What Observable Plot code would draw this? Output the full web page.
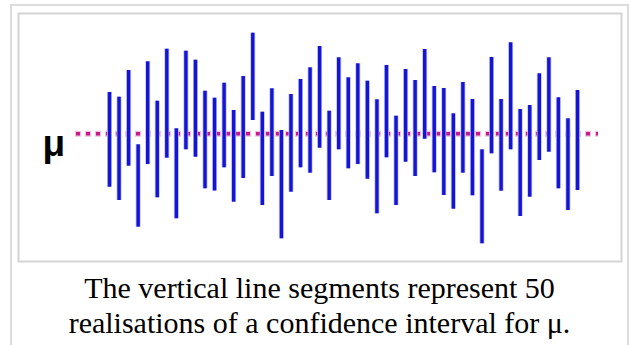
<!DOCTYPE html>
<html>
<head>
<meta charset="utf-8">
<script src="https://cdn.jsdelivr.net/npm/d3@7"></script>
<script src="https://cdn.jsdelivr.net/npm/@observablehq/plot@0.6"></script>
<style>
  html, body { margin: 0; padding: 0; background: #fff; }
  #page { position: relative; width: 629px; height: 345px; overflow: hidden; }
  #outer { position: absolute; left: 10px; top: 4px; width: 619px; height: 360px;
           box-sizing: border-box; border: 2px solid #dcdcdc; }
  #chart { position: absolute; left: 0; top: 0; }
  #caption { position: absolute; left: 10px; width: 619px; top: 270px; text-align: center;
             font-family: 'Liberation Serif', 'Times New Roman', Times, 'DejaVu Serif', serif;
             font-size: 30px; line-height: 35px; color: #000; }
</style>
</head>
<body>
<div id="page">
  <div id="outer"></div>
  <div id="chart"></div>
  <div id="caption">The vertical line segments represent 50<br>realisations of a confidence interval for μ.</div>
</div>
<script>
// 50 realisations: index, upper bound, lower bound (μ = 0)
const sampleIndex = d3.range(1, 51);
const upper = [4.13, 3.66, 6.33, -1.10, 7.20, 3.26, 8.46, 0.50, 8.26, 7.36,
               4.26, 3.56, 5.06, 2.33, 5.73, 10.06, 2.16, 4.50, 0.33, 3.93,
               5.43, 6.60, 8.73, 2.26, 7.60, 5.60, 7.00, 5.26, 3.40, 6.83,
               1.76, 6.43, 5.33, 8.43, 4.73, 4.53, 2.00, 5.13, 3.43, -1.60,
               7.63, 3.43, 9.10, 2.43, 2.83, 6.00, 7.60, 3.60, 1.50, 4.33];
const lower = [-5.34, -6.67, -3.24, -9.34, -3.07, -6.40, -2.44, -8.50, -1.60, -2.34,
               -5.50, -5.72, -3.40, -6.84, -4.47, 1.33, -7.17, -4.27, -10.50, -5.84,
               -3.40, -3.94, -1.44, -6.67, -1.60, -3.50, -3.07, -4.54, -8.00, -2.40,
               -7.17, -2.84, -4.27, -0.54, -3.90, -6.17, -7.54, -3.94, -6.20, -11.00,
               -2.00, -5.74, -1.60, -8.27, -6.34, -2.67, -1.84, -5.50, -7.67, -5.67];
const mu = [0];
const muLabel = ["μ"];

const intervals = sampleIndex.map((i, k) => ({i, hi: upper[k], lo: lower[k]}));

const chart = Plot.plot({
  width: 629,
  height: 265,
  marginLeft: 18,
  marginTop: 13,
  marginRight: 8,
  marginBottom: 4,
  x: {domain: [1, 50], range: [109, 577], axis: null},
  y: {domain: [-10, 10], range: [233.3, 33.3], axis: null},
  marks: [
    Plot.frame({stroke: "#d4d4d4", strokeWidth: 2}),
    Plot.ruleY(mu, {stroke: "#f2c2de", strokeWidth: 6, strokeDasharray: "6,4", insetLeft: 57, insetRight: 23}),
    Plot.ruleY(mu, {stroke: "#c8198c", strokeWidth: 3.5, strokeDasharray: "4,6", strokeDashoffset: -1, insetLeft: 57, insetRight: 23}),
    Plot.ruleX(intervals, {x: "i", y1: "lo", y2: "hi", stroke: "#c0c0f0", strokeWidth: 5}),
    Plot.ruleX(intervals, {x: "i", y1: "lo", y2: "hi", stroke: "#1414d4", strokeWidth: 3.4}),
    Plot.text(muLabel, {frameAnchor: "left", y: mu, dx: 24, dy: 10, textAnchor: "start",
      fontSize: 37, fontWeight: "bold", fontFamily: "Liberation Sans, Arial, sans-serif", fill: "#000"})
  ]
});
chart.style.background = "transparent";
document.getElementById("chart").appendChild(chart);
</script>
</body>
</html>
